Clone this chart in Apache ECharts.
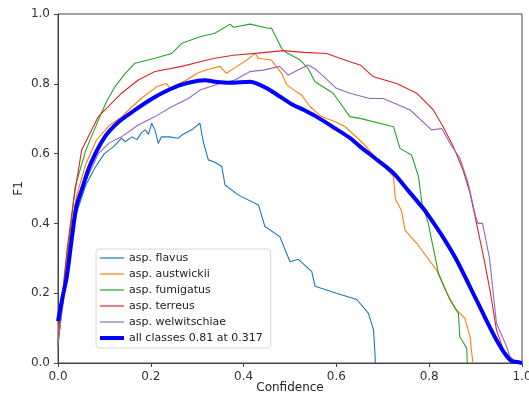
<!DOCTYPE html>
<html>
<head>
<meta charset="utf-8">
<script src="https://cdn.jsdelivr.net/npm/echarts@6/dist/echarts.min.js"></script>
<style>
	html, body { margin: 0; padding: 0; background: #fff; }
	#chart { width: 529px; height: 395px; }
</style>
</head>
<body>
<div id="chart"></div>
<script>
// 图例名称
var names = ['asp. flavus', 'asp. austwickii', 'asp. fumigatus', 'asp. terreus', 'asp. welwitschiae', 'all classes 0.81 at 0.317'];
var colors = ['#1f77b4', '#ff7f0e', '#2ca02c', '#d62728', '#9467bd', '#0000ff'];
var ticks = [0, 0.2, 0.4, 0.6, 0.8, 1.0];

// [confidence, F1]
var flavus = [[0,0.05],[0.01,0.18],[0.02,0.3],[0.04,0.43],[0.06,0.51],[0.08,0.56],[0.1,0.6],[0.12,0.62],
	[0.137,0.644],[0.145,0.634],[0.159,0.648],[0.17,0.64],[0.18,0.66],[0.188,0.668],[0.195,0.655],
	[0.202,0.687],[0.209,0.668],[0.216,0.629],[0.223,0.648],[0.24,0.648],[0.259,0.644],[0.267,0.653],
	[0.29,0.67],[0.306,0.687],[0.313,0.634],[0.324,0.582],[0.338,0.575],[0.353,0.563],[0.36,0.51],
	[0.389,0.481],[0.432,0.453],[0.446,0.391],[0.478,0.362],[0.5,0.29],[0.518,0.297],[0.547,0.262],
	[0.554,0.22],[0.6,0.2],[0.644,0.182],[0.669,0.142],[0.68,0.095],[0.683,0.03],[0.684,0]];
var austwickii = [[0,0.08],[0.01,0.2],[0.02,0.32],[0.04,0.48],[0.06,0.57],[0.083,0.639],[0.11,0.68],
	[0.137,0.705],[0.16,0.735],[0.184,0.763],[0.213,0.792],[0.234,0.801],[0.241,0.787],[0.26,0.8],
	[0.277,0.811],[0.3,0.83],[0.32,0.84],[0.349,0.85],[0.363,0.83],[0.38,0.845],[0.407,0.868],
	[0.425,0.887],[0.432,0.873],[0.46,0.868],[0.482,0.83],[0.493,0.797],[0.514,0.777],[0.525,0.768],
	[0.543,0.735],[0.568,0.706],[0.6,0.69],[0.619,0.677],[0.658,0.629],[0.69,0.58],[0.723,0.534],
	[0.727,0.47],[0.74,0.438],[0.748,0.381],[0.773,0.343],[0.816,0.266],[0.838,0.2],[0.859,0.152],
	[0.877,0.128],[0.888,0.075],[0.894,0]];
var fumigatus = [[0,0.05],[0.01,0.18],[0.02,0.3],[0.037,0.505],[0.06,0.61],[0.087,0.696],[0.105,0.75],
	[0.123,0.792],[0.145,0.83],[0.166,0.859],[0.209,0.873],[0.245,0.887],[0.267,0.916],[0.306,0.935],
	[0.338,0.945],[0.371,0.971],[0.378,0.962],[0.414,0.971],[0.453,0.959],[0.46,0.96],[0.482,0.901],
	[0.489,0.892],[0.522,0.868],[0.539,0.844],[0.554,0.806],[0.593,0.773],[0.629,0.706],[0.651,0.701],
	[0.723,0.677],[0.737,0.615],[0.762,0.596],[0.777,0.534],[0.784,0.46],[0.798,0.4],[0.82,0.257],
	[0.845,0.18],[0.863,0.142],[0.866,0.075],[0.881,0.042],[0.882,0]];
var terreus = [[0,0.06],[0.01,0.2],[0.02,0.33],[0.035,0.48],[0.051,0.61],[0.087,0.706],[0.137,0.773],
	[0.173,0.811],[0.209,0.835],[0.267,0.85],[0.306,0.863],[0.338,0.873],[0.378,0.882],[0.43,0.888],
	[0.486,0.895],[0.53,0.89],[0.579,0.887],[0.629,0.863],[0.651,0.854],[0.68,0.82],[0.73,0.801],
	[0.773,0.773],[0.809,0.725],[0.83,0.677],[0.852,0.62],[0.873,0.553],[0.888,0.487],[0.902,0.4],
	[0.917,0.305],[0.931,0.209],[0.945,0.095],[0.96,0.037],[0.981,0.007],[1,0]];
var welwitschiae = [[0,0.06],[0.01,0.16],[0.02,0.26],[0.035,0.4],[0.051,0.496],[0.087,0.6],[0.11,0.63],
	[0.137,0.648],[0.173,0.682],[0.209,0.706],[0.245,0.734],[0.281,0.758],[0.306,0.782],[0.349,0.801],
	[0.38,0.81],[0.414,0.835],[0.445,0.84],[0.478,0.85],[0.496,0.825],[0.539,0.854],[0.557,0.84],
	[0.6,0.787],[0.629,0.773],[0.672,0.758],[0.701,0.758],[0.759,0.725],[0.805,0.668],[0.827,0.672],
	[0.845,0.629],[0.866,0.587],[0.884,0.515],[0.9,0.42],[0.905,0.4],[0.915,0.4],[0.93,0.3],
	[0.945,0.114],[0.967,0.047],[0.974,0.018],[0.99,0]];
var allClasses = [[0,0.12],[0.01,0.19],[0.019,0.247],[0.03,0.36],[0.04,0.45],[0.051,0.496],[0.07,0.57],
	[0.101,0.648],[0.13,0.69],[0.166,0.725],[0.2,0.755],[0.23,0.777],[0.26,0.795],[0.302,0.809],
	[0.317,0.81],[0.338,0.806],[0.37,0.803],[0.414,0.806],[0.43,0.8],[0.45,0.787],[0.48,0.762],
	[0.507,0.739],[0.53,0.725],[0.557,0.706],[0.6,0.67],[0.629,0.645],[0.651,0.62],[0.69,0.58],
	[0.723,0.544],[0.751,0.5],[0.787,0.443],[0.795,0.429],[0.83,0.36],[0.859,0.295],[0.902,0.18],
	[0.945,0.066],[0.974,0.009],[0.996,0.001],[1,0]];

var curves = [flavus, austwickii, fumigatus, terreus, welwitschiae, allClasses];
var font = 'DejaVu Sans';

function fmt(v) {
	return v.toFixed(1);
}

var axisCommon = {
	type : 'value',
	min : ticks[0],
	max : ticks[ticks.length - 1],
	interval : 0.2,
	nameLocation : 'middle',
	nameMoveOverlap : false,
	nameTextStyle : { color : '#222', fontFamily : font, fontSize : 12 },
	axisLine : { show : true, lineStyle : { color : '#444', width : 1 } },
	axisTick : { show : true, length : 4, lineStyle : { color : '#444' } },
	axisLabel : { color : '#333', fontFamily : font, fontSize : 12, formatter : fmt },
	splitLine : { show : false }
};

var seriesList = [];
var legendData = [];
for (var i = 0; i < curves.length; i++) {
	var last = (i == curves.length - 1);
	seriesList.push({
		name : names[i],
		type : 'line',
		data : curves[i],
		symbol : 'none',
		smooth : last ? 0.3 : false,
		silent : true,
		lineStyle : { color : colors[i], width : last ? 4 : 1.1 },
		itemStyle : { color : colors[i] }
	});
	// 图例里只画一条线
	legendData.push({
		name : names[i],
		icon : last ? 'path://M0,0 L24,0 L24,4 L0,4 Z' : 'path://M0,0 L24,0 L24,1.2 L0,1.2 Z'
	});
}

var options = {
	animation : false,
	grid : {
		left : 58, right : 7, top : 14, bottom : 32,
		outerBoundsMode : 'none',
		show : true, borderColor : '#444', borderWidth : 1
	},
	legend : {
		orient : 'vertical',
		left : 96, top : 249,
		padding : [2, 8, 3, 4],
		itemWidth : 24, itemHeight : 10, itemGap : 2,
		symbolKeepAspect : true,
		borderColor : '#d8d8d8', borderWidth : 1, borderRadius : 3,
		backgroundColor : 'rgba(255,255,255,0.85)',
		textStyle : { color : '#222', fontFamily : font, fontSize : 11, lineHeight : 14 },
		data : legendData
	},
	xAxis : Object.assign({}, axisCommon, { name : 'Confidence', nameGap : 19 }),
	yAxis : Object.assign({}, axisCommon, { name : 'F1', nameGap : 33 }),
	series : seriesList
};

var myChart = echarts.init(document.getElementById('chart'));
myChart.setOption(options);
</script>
</body>
</html>
